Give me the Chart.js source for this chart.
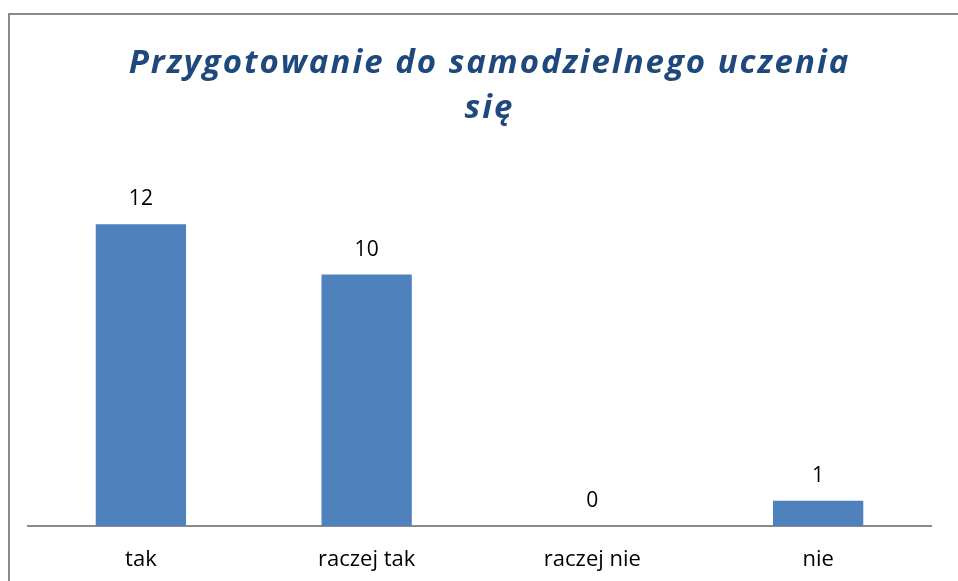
<!DOCTYPE html>
<html>
<head>
<meta charset="utf-8">
<script src="https://cdn.jsdelivr.net/npm/chart.js@4.4.1/dist/chart.umd.min.js"></script>
<style>
html,body{margin:0;padding:0;background:#fff;}
#wrap{width:958px;height:581px;position:relative;}
</style>
</head>
<body>
<div id="wrap"><canvas id="c" width="958" height="581"></canvas></div>
<script>
const titleLines = ["Przygotowanie do samodzielnego uczenia", "się"];
const categories = ["tak", "raczej tak", "raczej nie", "nie"];
const values = [12, 10, 0, 1];
const yMax = 14;

const FONT = '"Open Sans", Lato, sans-serif';

const frame = {
  id: 'frame',
  beforeDraw(chart) {
    const ctx = chart.ctx;
    ctx.save();
    ctx.strokeStyle = '#8a8a8a';
    ctx.lineWidth = 2;
    ctx.beginPath();
    ctx.moveTo(9, 590);
    ctx.lineTo(9, 14);
    ctx.lineTo(970, 14);
    ctx.stroke();
    ctx.restore();
  }
};

const titleTweak = {
  id: 'titleTweak',
  afterLayout(chart) {
    const tb = chart.titleBlock;
    if (!tb) return;
    tb.left += 10;
    tb.right += 10;
    if (!tb._wrapped) {
      const orig = tb.draw.bind(tb);
      tb.draw = function (area) {
        const ctx = chart.ctx;
        const prev = ctx.letterSpacing;
        ctx.letterSpacing = '2px';
        orig(area);
        ctx.letterSpacing = prev || '0px';
      };
      tb._wrapped = true;
    }
  }
};

const valueLabels = {
  id: 'valueLabels',
  afterDatasetsDraw(chart) {
    const ctx = chart.ctx;
    const meta = chart.getDatasetMeta(0);
    ctx.save();
    ctx.font = '21px ' + FONT;
    ctx.fillStyle = '#000';
    ctx.textAlign = 'center';
    ctx.textBaseline = 'middle';
    meta.data.forEach((bar, i) => {
      ctx.fillText(String(values[i]), bar.x, bar.y - 25);
    });
    ctx.restore();
  }
};

new Chart(document.getElementById('c'), {
  type: 'bar',
  data: {
    labels: categories,
    datasets: [{
      data: values,
      backgroundColor: '#4F81BD',
      borderWidth: 0,
      barPercentage: 0.4,
      categoryPercentage: 1.0
    }]
  },
  options: {
    responsive: false,
    animation: false,
    devicePixelRatio: 1,
    layout: { padding: { left: 28, right: 27, top: 0, bottom: 0 } },
    plugins: {
      legend: { display: false },
      tooltip: { enabled: false },
      title: {
        display: true,
        text: titleLines,
        color: '#1F497D',
        font: { family: FONT, size: 33, weight: 'bold', style: 'italic', lineHeight: 1.364 },
        padding: { top: 41, bottom: 43 }
      }
    },
    scales: {
      x: {
        grid: { display: false, drawTicks: false },
        border: { display: true, color: '#8a8a8a', width: 2 },
        ticks: { color: '#000', font: { family: FONT, size: 22 }, padding: 21 },
        afterFit(scale) { scale.height = 55; }
      },
      y: {
        display: false,
        min: 0,
        max: yMax
      }
    }
  },
  plugins: [frame, titleTweak, valueLabels]
});
</script>
</body>
</html>
